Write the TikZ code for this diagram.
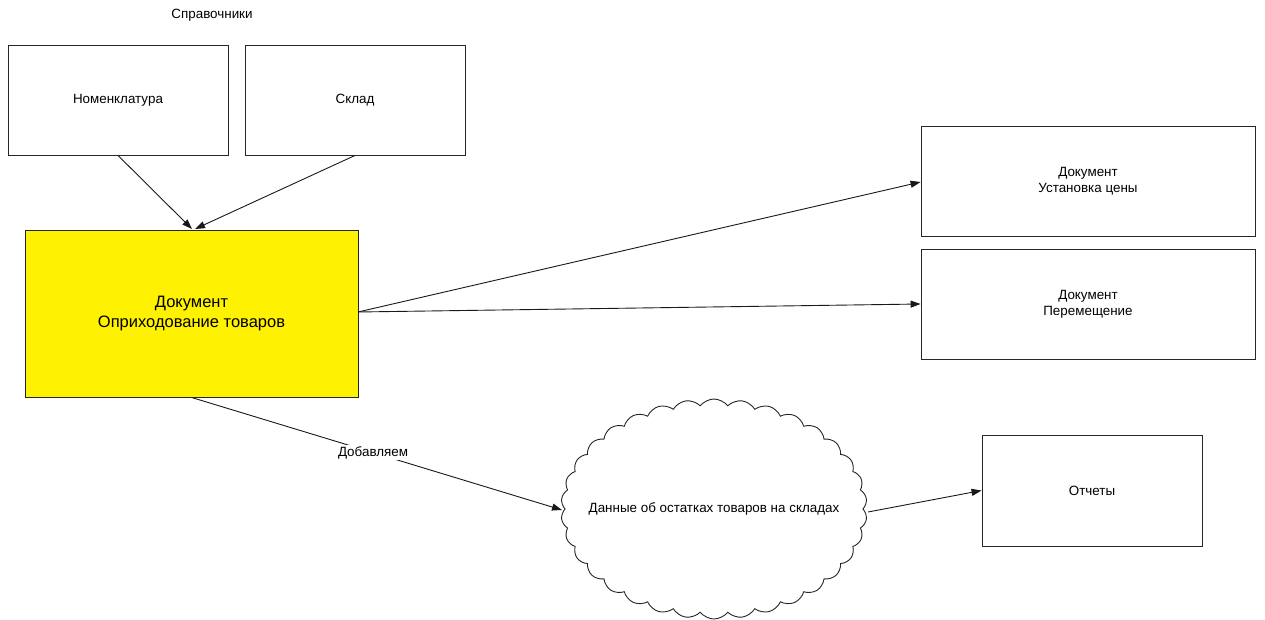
\documentclass[tikz,border=0pt]{standalone}
\usepackage{fontspec}
\setmainfont{Liberation Sans}
\usetikzlibrary{arrows.meta,shapes.symbols}
\begin{document}
\begin{tikzpicture}[x=1pt,y=-1pt,
  box/.style={draw=black!85,line width=0.9pt,fill=white,inner sep=0pt,align=center,font=\fontsize{13.4}{16}\selectfont},
  conn/.style={draw=black!90,line width=0.9pt,-{Triangle[length=10pt,width=7pt]}},
  lbl/.style={font=\fontsize{13.4}{16}\selectfont}]
\useasboundingbox (0,0) rectangle (1265,620);
\node[lbl] (spr) at (212,15) {Справочники};
\node[box,minimum width=220,minimum height=110] (nom) at (118,100) {Номенклатура};
\node[box,minimum width=220,minimum height=110] (skl) at (355,100) {Склад};
\node[box,fill=yellow,minimum width=333,minimum height=167,font=\fontsize{16.5}{20}\selectfont] (opr) at (191.5,313.5) {Документ\\Оприходование товаров};
\node[box,minimum width=334,minimum height=110] (ust) at (1088,181) {Документ\\Установка цены};
\node[box,minimum width=334,minimum height=110] (per) at (1088,304) {Документ\\Перемещение};
\node[box,minimum width=220,minimum height=111] (otc) at (1092,490.5) {Отчеты};
\node[cloud,draw=black!85,line width=0.9pt,cloud puffs=34,cloud puff arc=105,aspect=1.4,inner sep=0pt,minimum width=306,minimum height=220] (cld) at (714,509) {};
\node[lbl] (cldt) at (714,509) {Данные об остатках товаров на складах};
\coordinate (oprR) at (358,312);
\draw[conn] (nom.south) -- (192,229);
\draw[conn] (skl.south) -- (195,229);
\draw[conn] (oprR) -- (ust.west |- 0,182);
\draw[conn] (oprR) -- (per.west);
\draw[conn] (opr.south) -- node[lbl,fill=white,inner sep=1pt,pos=0.49] (dob) {Добавляем} (562,510);
\draw[conn] (868,512) -- (otc.west);
\end{tikzpicture}
\end{document}
